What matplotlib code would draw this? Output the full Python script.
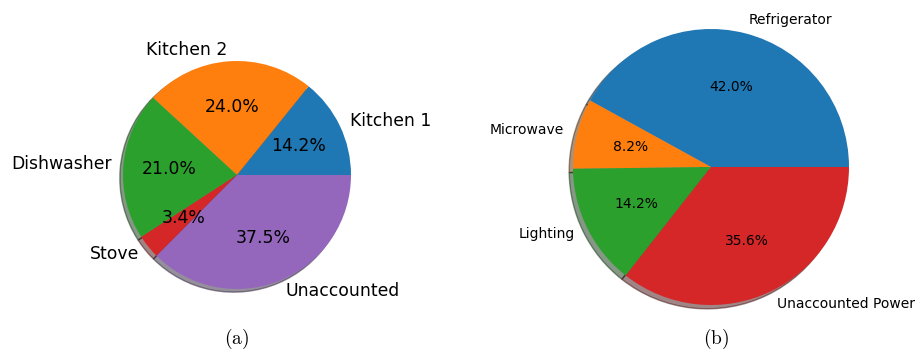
"Energy breakdown pies: (a) kitchen circuits, (b) appliances"

import matplotlib
matplotlib.use("Agg")
import matplotlib.pyplot as plt

labels_a = ['Kitchen 1', 'Kitchen 2', 'Dishwasher', 'Stove', 'Unaccounted']
share_a = [14.2, 24.0, 21.0, 3.4, 37.5]

labels_b = ['Refrigerator', 'Microwave', 'Lighting', 'Unaccounted Power']
share_b = [42.0, 8.2, 14.2, 35.6]

W, H = 921, 353
fig = plt.figure(figsize=(W / 100, H / 100), dpi=100)


def pie_axes(cx, cy, r):
    # place an axes so that one data unit = r pixels, centred at (cx, cy) (top-origin px)
    half = 1.2 * r
    ax = fig.add_axes([(cx - half) / W, (H - cy - half) / H, 2 * half / W, 2 * half / H])
    return ax


ax1 = pie_axes(237, 175, 114)
ax1.pie(share_a, labels=labels_a, autopct='%1.1f%%', shadow=True,
        textprops={'fontsize': 12.4})
ax1.set_xlim(-1.2, 1.2)
ax1.set_ylim(-1.2, 1.2)
ax1.set_aspect('auto')

ax2 = pie_axes(711, 167, 138)
ax2.pie(share_b, labels=labels_b, autopct='%1.1f%%', shadow=True,
        textprops={'fontsize': 10})
ax2.set_xlim(-1.2, 1.2)
ax2.set_ylim(-1.2, 1.2)
ax2.set_aspect('auto')

fig.text(237 / W, 1 - 339 / H, r'$(\mathrm{a})$', fontsize=14, math_fontfamily='cm',
         ha='center', va='center')
fig.text(716 / W, 1 - 339 / H, r'$(\mathrm{b})$', fontsize=14, math_fontfamily='cm',
         ha='center', va='center')

fig.savefig('out.png', dpi=100)
